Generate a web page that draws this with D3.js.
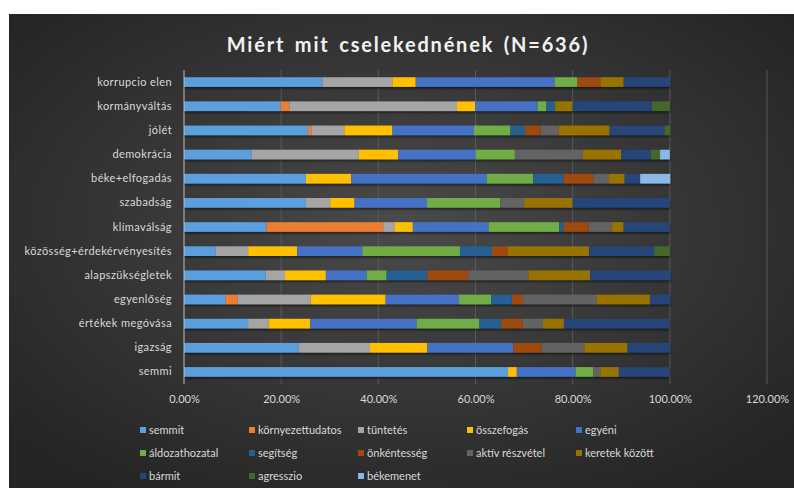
<!DOCTYPE html>
<html>
<head>
<meta charset="utf-8">
<script src="https://cdn.jsdelivr.net/npm/d3@7"></script>
<style>
  body { margin: 0; background: #fff; }
  text { font-family: Lato, "Open Sans", sans-serif; }
</style>
</head>
<body>
<script>
// categories, top to bottom
var categories = ["korrupcio elen", "kormányváltás", "jólét", "demokrácia", "béke+elfogadás",
  "szabadság", "klímaválság", "közösség+érdekérvényesítés", "alapszükségletek",
  "egyenlőség", "értékek megóvása", "igazság", "semmi"];

var seriesNames = ["semmit", "környezettudatos", "tüntetés", "összefogás", "egyéni",
  "áldozathozatal", "segítség", "önkéntesség", "aktív részvétel", "keretek között",
  "bármit", "agresszio", "békemenet"];

var seriesColors = ["#5b9fdf", "#ed7d31", "#a5a5a5", "#ffc000", "#4472c4",
  "#70ad47", "#255e91", "#9e480e", "#636363", "#997300",
  "#264478", "#43682b", "#8ab9e6"];

// share (%) per series, in category order
var semmit           = [28.5, 19.9, 25.5, 13.9, 25.1, 25.1, 17.0,  6.5, 16.8,  8.6, 13.2, 23.6, 66.7];
var kornyezettudatos = [ 0,    1.8,  0.7,  0,    0,    0,   24.0,  0,    0,    2.4,  0,    0,    0];
var tuntetes         = [14.4, 34.5,  6.8, 22.1,  0,    5.0,  2.4,  6.7,  4.0, 15.1,  4.2, 14.7,  0];
var osszefogas       = [ 4.8,  3.7,  9.9,  8.1,  9.3,  5.0,  3.7, 10.1,  8.4, 15.4,  8.6, 11.8,  1.8];
var egyeni           = [28.6, 12.9, 16.8, 15.9, 27.9, 14.9, 15.6, 13.4,  8.4, 15.1, 21.9, 17.7, 12.1];
var aldozathozatal   = [ 4.7,  1.8,  7.5,  8.1,  9.6, 15.1, 14.5, 20.1,  4.1,  6.6, 12.9,  0,    3.6];
var segitseg         = [ 0,    1.8,  3.0,  0,    6.2,  0,    1.0,  6.6,  8.4,  4.3,  4.5,  0,    0];
var onkentesseg      = [ 4.7,  0,    3.2,  0,    6.2,  0,    5.1,  3.2,  8.4,  2.3,  4.4,  5.8,  0];
var aktivReszvetel   = [ 0,    0,    3.7, 14.0,  3.2,  4.9,  4.7,  0,   12.4, 15.1,  4.2,  8.8,  1.5];
var keretekKozott    = [ 4.8,  3.6, 10.5,  7.9,  3.2, 10.0,  2.5, 16.8, 12.7, 11.0,  4.3,  8.9,  3.8];
var barmit           = [ 9.6, 16.3, 11.3,  6.1,  3.2, 20.0,  9.5, 13.4, 16.6,  4.2, 21.7,  8.8, 10.4];
var agresszio        = [ 0,    3.7,  1.2,  1.9,  0,    0,    0,    3.2,  0,    0,    0,    0,    0];
var bekemenet        = [ 0,    0,    0,    2.0,  6.2,  0,    0,    0,    0,    0,    0,    0,    0];

var xTicks = [0, 20, 40, 60, 80, 100, 120];

var seriesValues = [semmit, kornyezettudatos, tuntetes, osszefogas, egyeni, aldozathozatal,
  segitseg, onkentesseg, aktivReszvetel, keretekKozott, barmit, agresszio, bekemenet];

var width = 794, height = 488;
var margin = {left: 184, right: 27, top: 70, bottom: 104};

var svg = d3.select("body").append("svg")
    .attr("width", width)
    .attr("height", height);

var defs = svg.append("defs");
var bg = defs.append("radialGradient").attr("id", "bg")
    .attr("cx", "50%").attr("cy", "45%").attr("r", "65%");
bg.append("stop").attr("offset", "0%").attr("stop-color", "#4a4a4a");
bg.append("stop").attr("offset", "100%").attr("stop-color", "#252525");

var shadow = defs.append("filter").attr("id", "shadow")
    .attr("x", "-5%").attr("y", "-50%").attr("width", "110%").attr("height", "220%");
shadow.append("feDropShadow").attr("dx", 0).attr("dy", 1.5).attr("stdDeviation", 0.8)
    .attr("flood-color", "#000").attr("flood-opacity", 0.6);

svg.append("rect")
    .attr("x", 9).attr("y", 14)
    .attr("width", width - 9).attr("height", height - 14)
    .attr("fill", "url(#bg)");

// title
svg.append("text")
   .attr("x", 408).attr("y", 52)
   .attr("text-anchor", "middle")
   .attr("fill", "#f2f2f2")
   .style("font-size", "20px")
   .style("font-weight", "bold")
   .style("letter-spacing", "1.8px")
   .style("word-spacing", "3px")
   .text("Miért mit cselekednének (N=636)");

var xScale = d3.scaleLinear().domain([0, 120]).range([margin.left, width - margin.right]);
var yScale = d3.scaleBand().domain(categories)
    .range([margin.top, height - margin.bottom]).paddingInner(0.6).paddingOuter(0.3);

// gridlines
svg.append("g")
   .selectAll("line")
   .data(xTicks.slice(1))
   .enter().append("line")
   .attr("x1", function(d) { return xScale(d); })
   .attr("x2", function(d) { return xScale(d); })
   .attr("y1", margin.top)
   .attr("y2", height - margin.bottom)
   .attr("stroke", "#5a5a5a")
   .attr("stroke-width", 1);

// stacked data
var rows = categories.map(function(c, i) {
    var r = {category: c};
    seriesNames.forEach(function(s, j) { r[s] = seriesValues[j][i]; });
    return r;
});
var stacked = d3.stack().keys(seriesNames)(rows);

svg.append("g")
   .attr("filter", "url(#shadow)")
   .selectAll("g")
   .data(stacked)
   .enter().append("g")
   .attr("fill", function(d, i) { return seriesColors[i]; })
   .selectAll("rect")
   .data(function(d) { return d; })
   .enter().append("rect")
   .attr("x", function(d) { return xScale(d[0]); })
   .attr("y", function(d) { return yScale(d.data.category); })
   .attr("width", function(d) { return xScale(d[1]) - xScale(d[0]); })
   .attr("height", yScale.bandwidth());

// axis line at zero
svg.append("line")
   .attr("x1", xScale(0)).attr("x2", xScale(0))
   .attr("y1", margin.top).attr("y2", height - margin.bottom)
   .attr("stroke", "#bfbfbf");

// x axis
var xAxis = d3.axisBottom(xScale).tickValues(xTicks)
    .tickFormat(function(d) { return d.toFixed(2) + "%"; })
    .tickSize(0).tickPadding(11);
var gx = svg.append("g")
   .attr("transform", "translate(0," + (height - margin.bottom) + ")")
   .call(xAxis);
gx.select(".domain").remove();
gx.selectAll("text").attr("fill", "#d9d9d9").style("font-size", "11px")
   .style("font-family", "Lato, sans-serif");

// y axis
var yAxis = d3.axisLeft(yScale).tickSize(0).tickPadding(12);
var gy = svg.append("g")
   .attr("transform", "translate(" + margin.left + ",0)")
   .call(yAxis);
gy.select(".domain").remove();
gy.selectAll("text").attr("fill", "#d9d9d9").style("font-size", "11px")
   .style("letter-spacing", "0.4px")
   .style("font-family", "Lato, sans-serif");

// legend
var legend = svg.append("g")
   .selectAll("g")
   .data(seriesNames)
   .enter().append("g")
   .attr("transform", function(d, i) {
       return "translate(" + (140 + (i % 5) * 109) + "," + (431 + Math.floor(i / 5) * 23) + ")";
   });
legend.append("rect")
   .attr("x", 0).attr("y", -4)
   .attr("width", 6).attr("height", 6)
   .attr("fill", function(d, i) { return seriesColors[i]; });
legend.append("text")
   .attr("x", 9).attr("y", 3)
   .attr("fill", "#d9d9d9")
   .style("font-size", "11px")
   .text(function(d) { return d; });
</script>
</body>
</html>
